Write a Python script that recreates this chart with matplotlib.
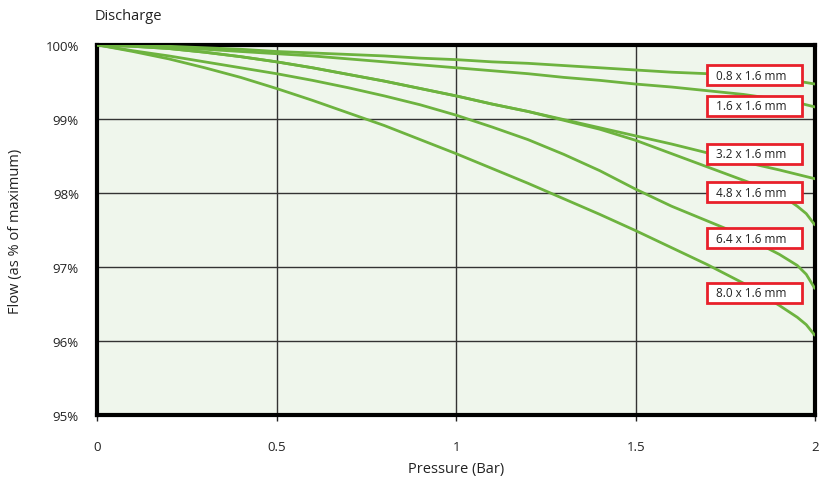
import matplotlib.pyplot as plt
from matplotlib.patches import Rectangle

plt.rcParams['font.family'] = ['Open Sans', 'DejaVu Sans']

pressure = [0, 0.1, 0.2, 0.3, 0.4, 0.5, 0.6, 0.7, 0.8, 0.9, 1.0,
            1.1, 1.2, 1.3, 1.4, 1.5, 1.6, 1.7, 1.8, 1.9, 1.95, 1.975, 2.0]

# Durchfluss in % vom Maximum, je Düsengröße
flow_08 = [100, 99.99, 99.98, 99.96, 99.94, 99.91, 99.89, 99.87, 99.85, 99.82, 99.80,
           99.77, 99.75, 99.72, 99.69, 99.66, 99.63, 99.61, 99.58, 99.54, 99.51, 99.49, 99.47]
flow_16 = [100, 99.99, 99.97, 99.94, 99.91, 99.88, 99.85, 99.81, 99.77, 99.73, 99.69,
           99.65, 99.61, 99.56, 99.52, 99.47, 99.43, 99.38, 99.33, 99.26, 99.22, 99.19, 99.16]
flow_32 = [100, 99.98, 99.95, 99.90, 99.84, 99.77, 99.69, 99.60, 99.51, 99.41, 99.31,
           99.20, 99.10, 98.99, 98.88, 98.77, 98.66, 98.54, 98.42, 98.31, 98.25, 98.22, 98.19]
flow_48 = [100, 99.98, 99.95, 99.90, 99.84, 99.77, 99.69, 99.60, 99.51, 99.41, 99.31,
           99.20, 99.10, 98.98, 98.86, 98.71, 98.53, 98.35, 98.17, 97.99, 97.82, 97.72, 97.56]
flow_64 = [100, 99.92, 99.85, 99.77, 99.69, 99.61, 99.52, 99.42, 99.31, 99.19, 99.05,
           98.89, 98.72, 98.52, 98.30, 98.05, 97.82, 97.62, 97.42, 97.17, 97.02, 96.90, 96.70]
flow_80 = [100, 99.91, 99.81, 99.69, 99.56, 99.41, 99.25, 99.08, 98.91, 98.72, 98.53,
           98.33, 98.13, 97.92, 97.71, 97.49, 97.26, 97.03, 96.78, 96.48, 96.32, 96.22, 96.07]

labels = ['0.8 x 1.6 mm', '1.6 x 1.6 mm', '3.2 x 1.6 mm',
          '4.8 x 1.6 mm', '6.4 x 1.6 mm', '8.0 x 1.6 mm']
series = [flow_08, flow_16, flow_32, flow_48, flow_64, flow_80]

x_ticks = [0, 0.5, 1, 1.5, 2]
x_tick_labels = ['0', '0.5', '1', '1.5', '2']
y_ticks = [95, 96, 97, 98, 99, 100]
y_tick_labels = ['95%', '96%', '97%', '98%', '99%', '100%']

# Mittelpunkte (y) der Beschriftungskästen
label_y = [99.59, 99.18, 98.53, 98.01, 97.39, 96.65]

fig = plt.figure(figsize=(8.19, 4.89), dpi=100)
ax = fig.add_axes([0.1184, 0.1493, 0.877, 0.757])
ax.set_facecolor('#eff6ec')

for vals in series:
    ax.plot(pressure, vals, color='#6db33f', lw=2, zorder=3, solid_capstyle='butt')

ax.set_xlim(0, 2)
ax.set_ylim(95, 100)
ax.set_xticks(x_ticks)
ax.set_xticklabels(x_tick_labels)
ax.set_yticks(y_ticks)
ax.set_yticklabels(y_tick_labels)
ax.tick_params(axis='x', length=4, width=1, pad=14, labelsize=9.5, colors='#222222')
ax.tick_params(axis='y', length=0, pad=13, labelsize=9.5, colors='#222222')

ax.grid(True, color='#333333', lw=1, zorder=1)
ax.set_axisbelow(True)

for sp in ax.spines.values():
    sp.set_linewidth(3)
    sp.set_color('black')

# Beschriftungskästen mit rotem Rand
box_w = 0.265
box_h = 0.27
for lab, yc in zip(labels, label_y):
    ax.add_patch(Rectangle((1.698, yc - box_h / 2), box_w, box_h,
                           facecolor='white', edgecolor='#e8202a', lw=2, zorder=5))
    ax.text(1.723, yc, lab, fontsize=8.5, va='center', ha='left',
            color='#222222', zorder=6)

ax.set_xlabel('Pressure (Bar)', fontsize=10.5, labelpad=6, color='#222222')
ax.set_ylabel('Flow (as % of maximum)', fontsize=10.5, labelpad=16, color='#222222')
fig.text(95 / 819, 1 - 17 / 489, 'Discharge', fontsize=10.5, va='center',
         ha='left', color='#222222')

fig.savefig('out.png', dpi=100)
